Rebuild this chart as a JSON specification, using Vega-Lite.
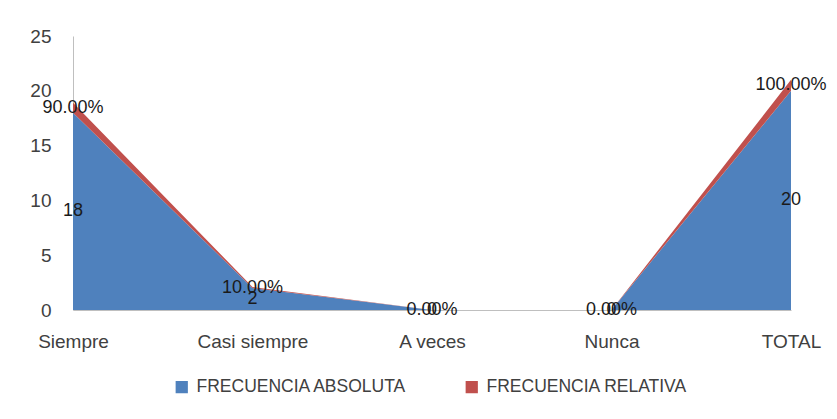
{
  "$schema": "https://vega.github.io/schema/vega-lite/v6.json",
  "autosize": {"type": "none"},
  "width": 718,
  "height": 274,
  "padding": {"left": 73, "top": 36, "right": 46, "bottom": 109},
  "background": "white",
  "config": {
    "view": {"stroke": null},
    "font": "Liberation Sans",
    "axis": {"labelFont": "Liberation Sans", "labelColor": "#404040", "labelFontSize": 19, "grid": false, "ticks": false, "domainColor": "#BFBFBF", "domainWidth": 1, "title": null}
  },
  "data": {
    "values": [
      {"categoria": "Siempre", "serie": "FRECUENCIA ABSOLUTA", "valor": 18},
      {"categoria": "Casi siempre", "serie": "FRECUENCIA ABSOLUTA", "valor": 2},
      {"categoria": "A veces", "serie": "FRECUENCIA ABSOLUTA", "valor": 0},
      {"categoria": "Nunca", "serie": "FRECUENCIA ABSOLUTA", "valor": 0},
      {"categoria": "TOTAL", "serie": "FRECUENCIA ABSOLUTA", "valor": 20},
      {"categoria": "Siempre", "serie": "FRECUENCIA RELATIVA", "valor": 0.9},
      {"categoria": "Casi siempre", "serie": "FRECUENCIA RELATIVA", "valor": 0.1},
      {"categoria": "A veces", "serie": "FRECUENCIA RELATIVA", "valor": 0},
      {"categoria": "Nunca", "serie": "FRECUENCIA RELATIVA", "valor": 0},
      {"categoria": "TOTAL", "serie": "FRECUENCIA RELATIVA", "valor": 1}
    ]
  },
  "encoding": {
    "x": {
      "field": "categoria", "type": "ordinal",
      "sort": ["Siempre", "Casi siempre", "A veces", "Nunca", "TOTAL"],
      "scale": {"type": "point", "padding": 0},
      "axis": {"labelAngle": 0, "labelPadding": 22, "labelAlign": "center"}
    }
  },
  "layer": [
    {
      "mark": {"type": "area", "opacity": 1},
      "encoding": {
        "y": {
          "field": "valor", "type": "quantitative", "stack": "zero",
          "scale": {"domain": [0, 25], "nice": false},
          "axis": {"values": [0, 5, 10, 15, 20, 25], "labelPadding": 22}
        },
        "color": {
          "field": "serie", "type": "nominal",
          "scale": {"domain": ["FRECUENCIA ABSOLUTA", "FRECUENCIA RELATIVA"], "range": ["#4F81BD", "#C0504D"]},
          "legend": {
            "title": null, "orient": "none", "direction": "horizontal",
            "legendX": 100, "legendY": 342,
            "symbolType": "square", "symbolSize": 150, "symbolOpacity": 1,
            "labelFont": "Liberation Sans", "labelFontSize": 17.5, "labelColor": "#404040",
            "labelLimit": 0,
            "columnPadding": 55, "labelOffset": 6
          }
        },
        "order": {"field": "serie", "sort": "ascending"}
      }
    },
    {
      "transform": [
        {"stack": "valor", "groupby": ["categoria"], "sort": [{"field": "serie", "order": "ascending"}], "as": ["v0", "v1"]},
        {"calculate": "(datum.v0 + datum.v1) / 2", "as": "medio"},
        {"filter": "datum.serie == 'FRECUENCIA ABSOLUTA'"}
      ],
      "mark": {"type": "text", "fontSize": 18, "color": "#1a1a1a", "baseline": "middle", "align": "center", "font": "Liberation Sans"},
      "encoding": {
        "y": {"field": "medio", "type": "quantitative"},
        "text": {"field": "valor", "type": "quantitative", "format": "d"}
      }
    },
    {
      "transform": [
        {"stack": "valor", "groupby": ["categoria"], "sort": [{"field": "serie", "order": "ascending"}], "as": ["v0", "v1"]},
        {"calculate": "(datum.v0 + datum.v1) / 2", "as": "medio"},
        {"filter": "datum.serie == 'FRECUENCIA RELATIVA'"}
      ],
      "mark": {"type": "text", "fontSize": 18, "color": "#1a1a1a", "baseline": "middle", "align": "center", "font": "Liberation Sans"},
      "encoding": {
        "y": {"field": "medio", "type": "quantitative"},
        "text": {"field": "valor", "type": "quantitative", "format": ".2%"}
      }
    }
  ]
}
